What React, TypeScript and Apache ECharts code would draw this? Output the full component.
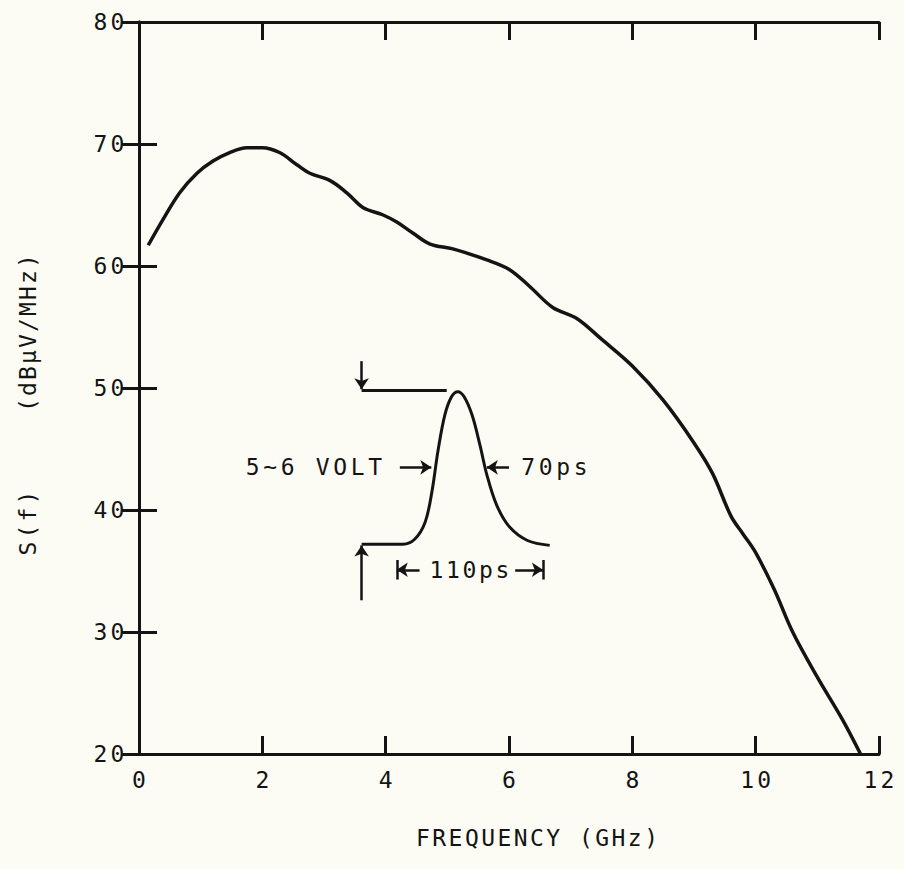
import React, { useEffect, useRef } from 'react';
import * as echarts from 'echarts';

// Spectrum S(f) vs frequency
const freqGHz = [0.15, 0.4, 0.66, 0.94, 1.2, 1.47, 1.75, 2.0, 2.28, 2.56, 2.77, 3.1, 3.37, 3.63, 3.95, 4.18, 4.44, 4.72, 5.09, 5.64, 6.01, 6.34, 6.71, 7.1, 7.5, 8.0, 8.5, 9.0, 9.3, 9.6, 9.8, 10.0, 10.3, 10.6, 11.0, 11.41, 11.7];
const spectrum = [61.7, 63.9, 66.0, 67.6, 68.6, 69.3, 69.7, 69.7, 69.3, 68.3, 67.6, 67.0, 66.0, 64.8, 64.2, 63.6, 62.7, 61.8, 61.4, 60.5, 59.7, 58.3, 56.6, 55.7, 54.0, 51.8, 49.0, 45.5, 43.0, 39.5, 38.0, 36.5, 33.5, 30.0, 26.3, 22.8, 20.0];

// Inset pulse waveform (drawn in plot coordinates)
const pulseX = [3.61, 4.28, 4.47, 4.64, 4.75, 4.85, 4.96, 5.07, 5.17, 5.27, 5.40, 5.53, 5.64, 5.80, 6.01, 6.30, 6.66];
const pulseY = [37.2, 37.2, 37.6, 39.0, 41.5, 44.9, 47.8, 49.3, 49.7, 49.3, 47.8, 45.3, 42.9, 40.4, 38.6, 37.5, 37.1];
const topLineX = [3.61, 4.99];
const topLineY = [49.8, 49.8];

const xTicks = [0, 2, 4, 6, 8, 10, 12];
const yTicks = [20, 30, 40, 50, 60, 70, 80];

const FONT = 'DejaVu Sans Mono';
const INK = '#141414';
const SIZE = 23;
const PITCH = 17;

// typewriter-like wide pitch: each character gets a fixed-width rich-text cell
const spaced = (s: string) => s.split('').map((ch) => `{c|${ch}}`).join('');
const richCell = (pitch: number) => ({
  c: { width: pitch, align: 'center', fontFamily: FONT, fontSize: SIZE, color: INK },
});

export default function App() {
  const ref = useRef<HTMLDivElement>(null);
  useEffect(() => {
    const chart = echarts.init(ref.current!, null, { renderer: 'svg' });
    const line = { show: true, lineStyle: { color: INK, width: 3 } };
    const tick = { show: true, inside: true, length: 18, lineStyle: { color: INK, width: 3 } };
    const label = {
      fontFamily: FONT, fontSize: SIZE, color: INK,
      formatter: (v: number) => spaced(String(v)),
      rich: richCell(PITCH),
    };
    const arrow = (a: number[], b: number[]) => [
      { coord: a, symbol: 'none' },
      { coord: b, symbol: 'arrow' },
    ];
    const seg = (a: number[], b: number[]) => [
      { coord: a, symbol: 'none' },
      { coord: b, symbol: 'none' },
    ];
    chart.setOption({
      animation: false,
      backgroundColor: '#fcfcf5',
      grid: { left: 139, right: 25, top: 22, bottom: 115 },
      xAxis: [
        {
          type: 'value', min: xTicks[0], max: xTicks[xTicks.length - 1], interval: 2,
          axisLine: line, axisTick: tick, splitLine: { show: false },
          axisLabel: { ...label, margin: 14 },
        },
        {
          type: 'value', position: 'top', min: xTicks[0], max: xTicks[xTicks.length - 1], interval: 2,
          axisLine: line, axisTick: tick, splitLine: { show: false }, axisLabel: { show: false },
        },
      ],
      yAxis: [
        {
          type: 'value', min: yTicks[0], max: yTicks[yTicks.length - 1], interval: 10,
          axisLine: line, axisTick: tick, splitLine: { show: false },
          axisLabel: { ...label, margin: 13 },
        },
        {
          type: 'value', position: 'right', min: yTicks[0], max: yTicks[yTicks.length - 1], interval: 10,
          axisLine: line, axisTick: tick, splitLine: { show: false }, axisLabel: { show: false },
        },
      ],
      series: [
        {
          type: 'line', smooth: 0.35, showSymbol: false, silent: true,
          data: freqGHz.map((f, i) => [f, spectrum[i]]),
          lineStyle: { color: INK, width: 3.5 },
        },
        {
          type: 'line', smooth: 0.35, showSymbol: false, silent: true,
          data: pulseX.map((f, i) => [f, pulseY[i]]),
          lineStyle: { color: INK, width: 3 },
          markLine: {
            silent: true, symbolSize: 11, label: { show: false },
            lineStyle: { color: INK, width: 2.5, type: 'solid' },
            data: [
              arrow([3.61, 52.2], [3.61, 49.9]),
              arrow([3.61, 32.6], [3.61, 37.1]),
              arrow([4.23, 43.5], [4.74, 43.5]),
              arrow([6.0, 43.5], [5.64, 43.5]),
              arrow([4.55, 35.1], [4.18, 35.1]),
              arrow([6.1, 35.1], [6.55, 35.1]),
              seg([4.18, 35.9], [4.18, 34.3]),
              seg([6.55, 35.9], [6.55, 34.3]),
            ],
          },
        },
        {
          type: 'line', showSymbol: false, silent: true,
          data: topLineX.map((f, i) => [f, topLineY[i]]),
          lineStyle: { color: INK, width: 3 },
        },
      ],
    });
    const px = (x: number, y: number) => chart.convertToPixel({ gridIndex: 0 }, [x, y]) as number[];
    const p1 = px(3.97, 43.5);
    const p2 = px(6.17, 43.5);
    const p3 = px(5.36, 35.1);
    const txt = (x: number, y: number, text: string, align: string, pitch = PITCH, rotation = 0) => ({
      type: 'text', x, y, rotation,
      style: {
        text: spaced(text), rich: richCell(pitch), fill: INK,
        fontFamily: FONT, fontSize: SIZE, align, verticalAlign: 'middle',
      },
    });
    chart.setOption({
      graphic: [
        txt(p1[0], p1[1], '5~6 VOLT', 'right', 17.5),
        txt(p2[0], p2[1], '70ps', 'left', 17.5),
        txt(p3[0], p3[1], '110ps', 'center', 16.5),
        txt(537, 838, 'FREQUENCY (GHz)', 'center', 16.3),
        txt(28, 333, '(dBμV/MHz)', 'center', 16, Math.PI / 2),
        txt(28, 523, 'S(f)', 'center', 17, Math.PI / 2),
      ],
    });
    return () => chart.dispose();
  }, []);
  return <div ref={ref} style={{ position: 'absolute', left: 0, top: 0, width: 904, height: 869 }} />;
}
